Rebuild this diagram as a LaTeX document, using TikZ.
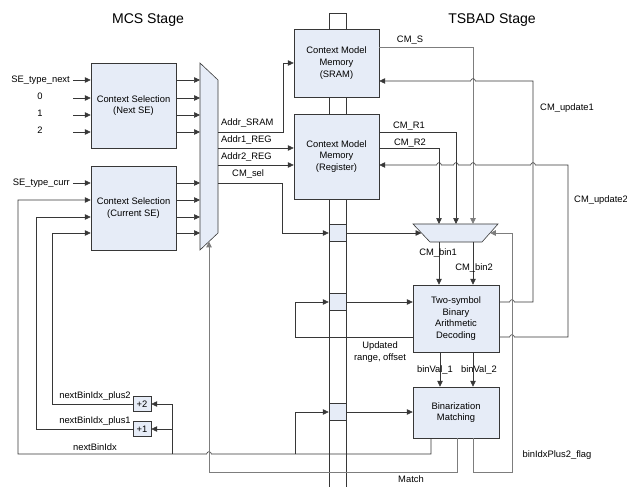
\documentclass[tikz,border=0pt]{standalone}
\usepackage{fontspec}
\setmainfont{Liberation Sans}
\usetikzlibrary{arrows.meta, positioning, calc}
\definecolor{boxfill}{RGB}{230,236,247}
\definecolor{wirecol}{RGB}{55,55,55}
\definecolor{greywire}{RGB}{125,125,125}

\begin{document}
\begin{tikzpicture}[x=0.03cm, y=-0.03cm, font=\fontsize{8}{10}\selectfont,
    >={Triangle[length=5pt,width=4.6pt]},
    blk/.style={draw=wirecol, fill=boxfill, align=center, inner sep=1pt},
    preg/.style={draw=wirecol, fill=boxfill, minimum width=0.51cm, minimum height=0.51cm, inner sep=0pt},
    wire/.style={draw=wirecol, line width=0.5pt},
    gwire/.style={draw=greywire, line width=0.7pt},
    lbl/.style={inner sep=0pt},
    title/.style={font=\fontsize{12}{14}\selectfont}]
    \useasboundingbox (0,0) rectangle (627,487);

    % stage titles
    \node[title] (tmcs) at (148,20) {MCS Stage};
    \node[title] (ttsbad) at (492,20) {TSBAD Stage};

    % pipeline column
    \draw[wire] (329,487) -- (329,13) -- (346,13) -- (346,487);

    % blocks
    \node[blk, minimum width=2.55cm, minimum height=2.55cm] (nextse) at (133.5,105.5) {Context Selection\\(Next SE)};
    \node[blk, minimum width=2.55cm, minimum height=2.52cm] (currse) at (133.5,208) {Context Selection\\(Current SE)};
    \node[blk, minimum width=2.55cm, minimum height=2.04cm] (sram) at (336.5,63) {Context Model\\Memory\\(SRAM)};
    \node[blk, minimum width=2.55cm, minimum height=2.55cm] (regmem) at (336.5,156.5) {Context Model\\Memory\\(Register)};
    \node[blk, minimum width=2.58cm, minimum height=2.01cm] (bad) at (456,318.5) {Two-symbol\\Binary\\Arithmetic\\Decoding};
    \node[blk, minimum width=2.58cm, minimum height=1.53cm] (bm) at (456,412.5) {Binarization\\Matching};
    \node[preg] (pr1) at (337.5,233) {};
    \node[preg] (pr2) at (337.5,302) {};
    \node[preg] (pr3) at (337.5,412) {};
    \node[blk, minimum width=0.54cm, minimum height=0.45cm, inner sep=0pt] (plus2) at (142,404) {+2};
    \node[blk, minimum width=0.54cm, minimum height=0.45cm, inner sep=0pt] (plus1) at (142,429) {+1};

    % multiplexers
    \coordinate (mcsTL) at (200,63);
    \coordinate (mcsTR) at (218,80);
    \coordinate (mcsBR) at (218,233);
    \coordinate (mcsBL) at (200,250);
    \coordinate (mcsB) at (209,241.5);
    \draw[wire, fill=boxfill] (mcsTL) -- (mcsTR) -- (mcsBR) -- (mcsBL) -- cycle;
    \coordinate (cmTL) at (413,224);
    \coordinate (cmTR) at (498,224);
    \coordinate (cmBR) at (482,242);
    \coordinate (cmBL) at (430,242);
    \coordinate (cmL) at (421.5,233);
    \coordinate (cmR) at (490,233);
    \draw[wire, fill=boxfill] (cmTL) -- (cmTR) -- (cmBR) -- (cmBL) -- cycle;

    % inputs of the MCS stage
    \node[lbl, anchor=east] (sen) at (70,80) {SE\_type\_next};
    \draw[wire,->] ([xshift=2.5pt]sen.east) -- (sen.east -| nextse.west);
    \foreach \v/\yy in {0/98,1/115,2/132} {
        \node[lbl] (lab\v) at (40,\yy-1.5) {\v};
        \coordinate (in\v) at (73,\yy);
        \draw[wire,->] (in\v) -- (in\v -| nextse.west);
    }
    \node[lbl, anchor=east] (sec) at (70,183) {SE\_type\_curr};
    \draw[wire,->] ([xshift=2.5pt]sec.east) -- (sec.east -| currse.west);
    \foreach \yy in {80,98,115,132} \draw[wire,->] (nextse.east |- 0,\yy) -- (mcsTL |- 0,\yy);
    \foreach \yy in {183,200,217,233} \draw[wire,->] (currse.east |- 0,\yy) -- (mcsTL |- 0,\yy);

    % MCS mux outputs
    \draw[wire,->] (mcsTR |- 0,132) -- (283,132) -- (283,63) -- (sram.west);
    \draw[wire,->] (mcsTR |- 0,148) -- (regmem.west |- 0,148);
    \draw[wire,->] (mcsTR |- 0,165) -- (regmem.west |- 0,165);
    \draw[wire,->] (mcsTR |- 0,183) -- (282,183) -- (282,233) -- (pr1.west);
    \draw[wire,->] (pr1.east) -- (cmL);
    \node[lbl, anchor=west] (laddrs) at (221,123) {Addr\_SRAM};
    \node[lbl, anchor=west] (laddr1) at (221,140) {Addr1\_REG};
    \node[lbl, anchor=west] (laddr2) at (221,157) {Addr2\_REG};
    \node[lbl, anchor=west] (lcmsel) at (232,174) {CM\_sel};

    % context models into the TSBAD mux
    \draw[gwire,->] (sram.east |- 0,47) -- (473,47) -- (473,224);
    \draw[wire,->] (regmem.east |- 0,132) -- (456,132) -- (456,224);
    \draw[wire,->] (regmem.east |- 0,148) -- (439,148) -- (439,224);
    \node[lbl] (lcms) at (410,40) {CM\_S};
    \node[lbl] (lcmr1) at (409,126) {CM\_R1};
    \node[lbl] (lcmr2) at (410,143) {CM\_R2};

    % context model updates
    \draw[wire,->] (bad.east |- 0,302) -- (509.65,302) arc[start angle=180,end angle=0,radius=2pt]
        -- (533,302) -- (533,81) -- (475.35,81) arc[start angle=0,end angle=180,radius=2pt]
        -- (sram.east |- 0,81);
    \draw[wire,->] (bad.east |- 0,337) -- (509.65,337) arc[start angle=180,end angle=0,radius=2pt]
        -- (568,337) -- (568,165) -- (535.35,165) arc[start angle=0,end angle=180,radius=2pt]
        -- (475.35,165) arc[start angle=0,end angle=180,radius=2pt]
        -- (458.35,165) arc[start angle=0,end angle=180,radius=2pt]
        -- (441.35,165) arc[start angle=0,end angle=180,radius=2pt]
        -- (regmem.east |- 0,165);
    \node[lbl, anchor=west] (lupd1) at (540,108) {CM\_update1};
    \node[lbl, anchor=west] (lupd2) at (574,200) {CM\_update2};

    % TSBAD stage
    \draw[wire,->] (439,242) -- (bad.north -| 439,0);
    \draw[wire,->] (473,242) -- (bad.north -| 473,0);
    \node[lbl] (lbin1) at (438,253) {CM\_bin1};
    \node[lbl] (lbin2) at (474,268) {CM\_bin2};
    \draw[wire,->] (bad.west |- 0,337) -- (295,337) -- (295,302) -- (pr2.west);
    \draw[wire,->] (pr2.east) -- (pr2.east -| bad.west);
    \node[lbl, align=center] (lupd) at (380,352) {Updated\\range, offset};
    \draw[wire,->] (bad.south -| 440,0) -- (bm.north -| 440,0);
    \draw[wire,->] (bad.south -| 473,0) -- (bm.north -| 473,0);
    \node[lbl] (lbv1) at (435,370) {binVal\_1};
    \node[lbl] (lbv2) at (479,370) {binVal\_2};

    % feedback from binarization matching
    \coordinate (jreg) at (295,454);
    \coordinate (jinc) at (172,454);
    \draw[wire,->] (bm.south -| 431,0) -- (431,454) -- (211.35,454) arc[start angle=0,end angle=180,radius=2pt]
        -- (18,454) -- (18,200) -- (currse.west |- 0,200);
    \draw[wire,->] (jreg) -- (295,412) -- (pr3.west);
    \draw[wire,->] (pr3.east) -- (pr3.east -| bm.west);
    \draw[wire,->] (jinc) -- (172,404) -- (plus2.east);
    \draw[wire,->] (172,429) -- (plus1.east);
    \draw[wire,->] (plus2.west) -- (52,404) -- (52,233) -- (currse.west |- 0,233);
    \draw[wire,->] (plus1.west) -- (36,429) -- (36,217) -- (currse.west |- 0,217);
    \node[lbl] (lnb2) at (95,396) {nextBinIdx\_plus2};
    \node[lbl] (lnb1) at (95,421) {nextBinIdx\_plus1};
    \node[lbl] (lnb) at (95,447) {nextBinIdx};
    \draw[gwire,->] (bm.south -| 457,0) -- (457,472) -- (209,472) -- (mcsB);
    \node[lbl] (lmatch) at (411,479) {Match};
    \draw[gwire,->] (bm.south -| 473,0) -- (473,472) -- (512,472) -- (512,233) -- (cmR);
    \node[lbl] (lflag) at (557,455) {binIdxPlus2\_flag};
\end{tikzpicture}
\end{document}
